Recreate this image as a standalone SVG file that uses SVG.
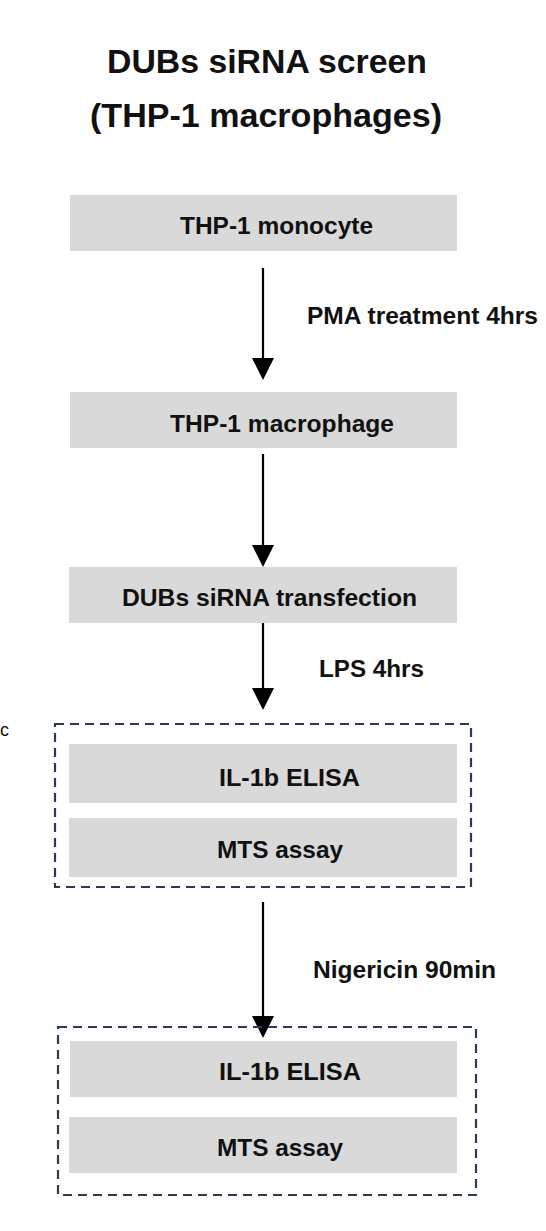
<svg xmlns="http://www.w3.org/2000/svg" width="546" height="1231" viewBox="0 0 546 1231">
<style>
text{font-family:"Liberation Sans",Arial,sans-serif;font-weight:bold;fill:#111}
.t{font-size:34px}
.b{font-size:24.5px}
.box{fill:#d9d9d9}
.dash{fill:none;stroke:#2b3b55;stroke-width:2.2;stroke-dasharray:9,6}
.arr{stroke:#000;stroke-width:2.2;fill:none}
.head{fill:#000}
</style>
<rect width="546" height="1231" fill="#fff"/>
<g id="title">
<text class="t" x="107" y="73" textLength="320" lengthAdjust="spacingAndGlyphs">DUBs siRNA screen</text>
<text class="t" x="90" y="127" textLength="352" lengthAdjust="spacingAndGlyphs">(THP-1 macrophages)</text>
</g>
<text x="0" y="736" style="font-weight:normal;font-size:18px">c</text>
<g id="connectors">
<line class="arr" x1="263" y1="268" x2="263" y2="360"/>
<polygon class="head" points="252,358 274,358 263,380"/>
<line class="arr" x1="263" y1="454" x2="263" y2="547"/>
<polygon class="head" points="252,545 274,545 263,567"/>
<line class="arr" x1="263" y1="622" x2="263" y2="690"/>
<polygon class="head" points="252,688 274,688 263,710"/>
<line class="arr" x1="263" y1="902" x2="263" y2="1018"/>
<polygon class="head" points="252,1016 274,1016 263,1038"/>
<text class="b" x="307" y="324" textLength="231" lengthAdjust="spacingAndGlyphs">PMA treatment 4hrs</text>
<text class="b" x="319" y="677" textLength="105" lengthAdjust="spacingAndGlyphs">LPS 4hrs</text>
<text class="b" x="313" y="978" textLength="183" lengthAdjust="spacingAndGlyphs">Nigericin 90min</text>
</g>
<g id="n1">
<rect class="box" x="70" y="195" width="387" height="56"/>
<text class="b" x="180" y="234" textLength="193" lengthAdjust="spacingAndGlyphs">THP-1 monocyte</text>
</g>
<g id="n2">
<rect class="box" x="70" y="392" width="387" height="56"/>
<text class="b" x="170" y="432" textLength="224" lengthAdjust="spacingAndGlyphs">THP-1 macrophage</text>
</g>
<g id="n3">
<rect class="box" x="69" y="567" width="388" height="56"/>
<text class="b" x="122" y="606" textLength="295" lengthAdjust="spacingAndGlyphs">DUBs siRNA transfection</text>
</g>
<g id="group1">
<rect class="dash" x="55" y="724" width="416" height="163"/>
<g id="n4">
<rect class="box" x="69" y="744" width="388" height="59"/>
<text class="b" x="219" y="786" textLength="141" lengthAdjust="spacingAndGlyphs">IL-1b ELISA</text>
</g>
<g id="n5">
<rect class="box" x="69" y="818" width="388" height="59"/>
<text class="b" x="217" y="858" textLength="126" lengthAdjust="spacingAndGlyphs">MTS assay</text>
</g>
</g>
<g id="group2">
<rect class="dash" x="58" y="1027" width="418" height="168"/>
<g id="n6">
<rect class="box" x="70" y="1041" width="387" height="56"/>
<text class="b" x="219" y="1080" textLength="142" lengthAdjust="spacingAndGlyphs">IL-1b ELISA</text>
</g>
<g id="n7">
<rect class="box" x="69" y="1117" width="388" height="56"/>
<text class="b" x="217" y="1156" textLength="126" lengthAdjust="spacingAndGlyphs">MTS assay</text>
</g>
</g>
</svg>
